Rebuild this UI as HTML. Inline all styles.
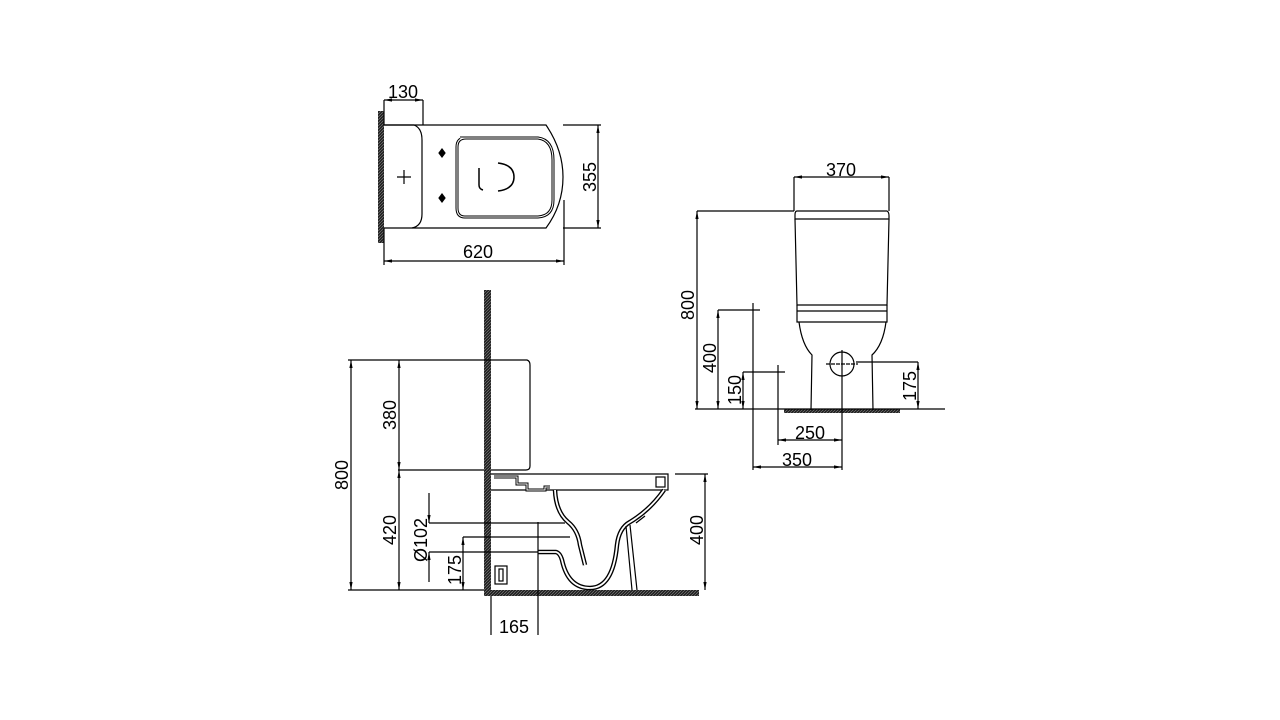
<!DOCTYPE html>
<html><head><meta charset="utf-8"><style>
html,body{margin:0;padding:0;background:#fff;}
svg{display:block;}
text{font-family:"Liberation Sans",sans-serif;font-size:18px;fill:#000;}
</style></head><body>
<svg width="1280" height="720" viewBox="0 0 1280 720" xmlns="http://www.w3.org/2000/svg">
<defs>
<marker id="a" viewBox="0 0 10 10" refX="10" refY="5" markerWidth="8" markerHeight="8" orient="auto-start-reverse" markerUnits="userSpaceOnUse"><path d="M0,3 L10,5 L0,7 z" fill="#000"/></marker>
<pattern id="h" width="3" height="3" patternUnits="userSpaceOnUse"><rect width="3" height="3" fill="#222"/><path d="M0,3 L3,0" stroke="#888" stroke-width="0.6"/></pattern>
</defs>
<g fill="none" stroke="#000" stroke-width="1.2">
<!-- TOP VIEW -->
<rect x="378" y="111" width="6" height="132" fill="url(#h)" stroke="none"/>
<path d="M384,125 H546 Q563,150 563,177 Q563,205 546,228 H384"/>
<path d="M384,125 H414 Q422,128 422,140 V214 Q422,226 412,228"/>
<path d="M460,138 H538 Q553,140 553,160 V200 Q553,216 538,217 H465 Q457,217 457,208 V147 Q457,138 466,138 Z" stroke-width="3"/>
<path d="M460,138 H538 Q553,140 553,160 V200 Q553,216 538,217 H465 Q457,217 457,208 V147 Q457,138 466,138 Z" stroke="#fff" stroke-width="1"/>
<path d="M479,168 V185 Q479,189 483,190" stroke-width="1.5"/>
<path d="M498,163 Q514,165 514,177 Q514,189 498,191" stroke-width="1.5"/>
<path d="M397,177 H411 M404,170 V184"/>
<path d="M442,149 L445,153 L442,157 L439,153 Z M442,194 L445,198 L442,202 L439,198 Z" fill="#000"/>
<path d="M384,100 V125 M423,100 V125"/>
<line x1="384" y1="100" x2="423" y2="100" marker-start="url(#a)" marker-end="url(#a)"/>
<path d="M563,125 H601 M563,228 H601"/>
<line x1="598" y1="125" x2="598" y2="228" marker-start="url(#a)" marker-end="url(#a)"/>
<path d="M384,228 V265 M564,200 V265"/>
<line x1="384" y1="261" x2="564" y2="261" marker-start="url(#a)" marker-end="url(#a)"/>

<!-- SIDE VIEW -->
<rect x="484" y="290" width="7" height="305" fill="url(#h)" stroke="none"/>
<rect x="484" y="590" width="215" height="6" fill="url(#h)" stroke="none"/>
<path d="M491,360 H527 Q530,361 530,365 V466 Q530,470 526,470 H491"/>
<path d="M491,474 H668 V490 H491"/>
<path d="M494,477 H517 V484 H527 V490 H545 V487 H550" stroke-width="3"/>
<path d="M494,477 H517 V484 H527 V490 H545 V487 H550" stroke="#fff" stroke-width="1"/>
<path d="M555,490 Q556,512 568,522 Q578,530 580,545 L585,565" stroke-width="4.5"/>
<path d="M555,490 Q556,512 568,522 Q578,530 580,545 L585,565" stroke="#fff" stroke-width="1.8"/>
<path d="M538,552 H556 Q560,553 562,560 Q568,588 590,588 Q613,588 617,545 Q619,528 630,522 Q650,510 664,490" stroke-width="4.5"/>
<path d="M538,552 H556 Q560,553 562,560 Q568,588 590,588 Q613,588 617,545 Q619,528 630,522 Q650,510 664,490" stroke="#fff" stroke-width="1.8"/>
<path d="M626,526 L632,590 M630,525 L637,590 M636,523 L645,516" stroke-width="1.2"/>
<rect x="656" y="477" width="9" height="10" stroke-width="1.2"/>
<rect x="495" y="566" width="12" height="18" stroke-width="1.2"/>
<rect x="499" y="569" width="4" height="12"/>
<path d="M348,360 H491 M398,470 H484 M348,590 H484"/>
<line x1="351" y1="360" x2="351" y2="590" marker-start="url(#a)" marker-end="url(#a)"/>
<line x1="399" y1="360" x2="399" y2="470" marker-start="url(#a)" marker-end="url(#a)"/>
<line x1="399" y1="470" x2="399" y2="590" marker-start="url(#a)" marker-end="url(#a)"/>
<path d="M429,523 H565 M429,552 H538 M463,537 H570"/>
<line x1="429" y1="493" x2="429" y2="523" marker-end="url(#a)"/>
<line x1="429" y1="582" x2="429" y2="552" marker-end="url(#a)"/>
<line x1="463" y1="537" x2="463" y2="590" marker-start="url(#a)" marker-end="url(#a)"/>
<path d="M538,522 V635 M491,596 V635"/>
<path d="M675,474 H708"/>
<line x1="705" y1="474" x2="705" y2="590" marker-start="url(#a)" marker-end="url(#a)"/>

<!-- FRONT VIEW -->
<rect x="784" y="409" width="116" height="4" fill="url(#h)" stroke="none"/>
<path d="M797,211 H887 Q889,212 889,216 V219 H795 V215 Q795,211 797,211 Z"/>
<path d="M795,219 L797,305 H887 L889,219"/>
<path d="M797,305 V322 H887 V305 M797,311 H887"/>
<path d="M799,322 Q802,345 812,355 L811,410 M886,322 Q883,345 872,355 L873,410"/>
<circle cx="842" cy="364" r="12"/>
<path d="M826,364 H858" stroke-dasharray="4,1"/>
<path d="M842,350 V470"/>
<path d="M695,409 H945"/>
<path d="M794,177 V211 M889,177 V211"/>
<line x1="794" y1="177" x2="889" y2="177" marker-start="url(#a)" marker-end="url(#a)"/>
<path d="M697,211 H794"/>
<line x1="697" y1="211" x2="697" y2="409" marker-start="url(#a)" marker-end="url(#a)"/>
<path d="M718,310 H760 M753,303 V470"/>
<line x1="718" y1="310" x2="718" y2="409" marker-start="url(#a)" marker-end="url(#a)"/>
<path d="M743,372 H785 M778,365 V445"/>
<line x1="743" y1="372" x2="743" y2="409" marker-start="url(#a)" marker-end="url(#a)"/>
<path d="M856,362 H918"/>
<line x1="918" y1="362" x2="918" y2="409" marker-start="url(#a)" marker-end="url(#a)"/>
<line x1="778" y1="440" x2="842" y2="440" marker-start="url(#a)" marker-end="url(#a)"/>
<line x1="753" y1="467" x2="842" y2="467" marker-start="url(#a)" marker-end="url(#a)"/>
</g>
<g>
<text x="403" y="98" text-anchor="middle">130</text>
<text x="478" y="258" text-anchor="middle">620</text>
<text transform="translate(596,177) rotate(-90)" text-anchor="middle">355</text>
<text transform="translate(348,475) rotate(-90)" text-anchor="middle">800</text>
<text transform="translate(396,415) rotate(-90)" text-anchor="middle">380</text>
<text transform="translate(396,530) rotate(-90)" text-anchor="middle">420</text>
<text transform="translate(427,540) rotate(-90)" text-anchor="middle">Ø102</text>
<text transform="translate(461,570) rotate(-90)" text-anchor="middle">175</text>
<text transform="translate(703,530) rotate(-90)" text-anchor="middle">400</text>
<text x="514" y="633" text-anchor="middle">165</text>
<text x="841" y="176" text-anchor="middle">370</text>
<text transform="translate(694,305) rotate(-90)" text-anchor="middle">800</text>
<text transform="translate(716,358) rotate(-90)" text-anchor="middle">400</text>
<text transform="translate(741,390) rotate(-90)" text-anchor="middle">150</text>
<text transform="translate(916,386) rotate(-90)" text-anchor="middle">175</text>
<text x="810" y="439" text-anchor="middle">250</text>
<text x="797" y="466" text-anchor="middle">350</text>
</g>
</svg>
</body></html>
